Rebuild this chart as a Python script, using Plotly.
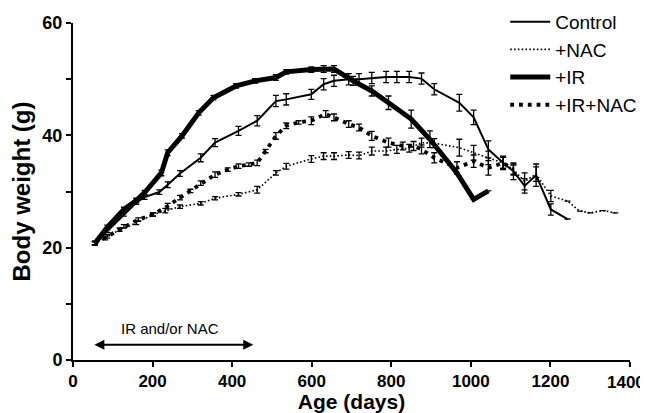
import plotly.graph_objects as go

# ---- data ----
ctrl_x = [55, 86, 128, 159, 180, 217, 238, 269, 321, 357, 416, 463, 510, 536, 599, 630, 656, 693, 719, 751, 787, 814, 845, 876, 908, 971, 1007, 1044, 1081, 1107, 1135, 1164, 1201, 1243]
ctrl_y = [20.8, 23.0, 25.9, 28.0, 29.0, 29.9, 31.2, 33.2, 36.0, 38.7, 40.8, 42.6, 46.1, 46.4, 47.3, 49.1, 49.7, 50.0, 50.0, 50.2, 50.4, 50.4, 50.4, 50.1, 48.2, 45.8, 43.2, 37.5, 35.1, 33.6, 31.0, 32.9, 26.8, 25.1]
ctrl_e = [0.3, 0.3, 0.3, 0.3, 0.4, 0.4, 0.5, 0.5, 0.7, 0.7, 0.8, 0.9, 1.0, 1.0, 0.9, 1.0, 1.0, 1.0, 1.0, 1.0, 1.0, 1.0, 1.0, 1.0, 1.0, 1.5, 1.3, 1.5, 1.2, 1.5, 1.3, 2.0, 1.0, 0.0]

nac_x = [55, 81, 117, 159, 201, 232, 269, 321, 357, 416, 463, 510, 536, 599, 630, 656, 693, 719, 751, 787, 814, 845, 876, 908, 971, 1007, 1044, 1081, 1107, 1135, 1164, 1201, 1243, 1274, 1300, 1332, 1363]
nac_y = [20.8, 21.7, 23.2, 24.4, 25.9, 26.6, 27.3, 27.9, 28.8, 29.5, 30.3, 33.3, 34.5, 35.8, 36.3, 36.3, 36.5, 36.4, 37.2, 37.2, 37.5, 37.7, 38.7, 38.6, 37.8, 36.9, 36.0, 35.1, 33.9, 31.8, 33.1, 29.2, 28.3, 26.5, 26.2, 26.6, 26.2]
nac_e = [0.3, 0.3, 0.3, 0.3, 0.3, 0.4, 0.3, 0.3, 0.3, 0.3, 0.6, 0.4, 0.5, 0.6, 0.6, 0.6, 0.6, 0.6, 0.7, 0.7, 0.7, 0.7, 0.8, 0.8, 1.5, 1.3, 1.2, 1.0, 1.0, 1.5, 1.3, 1.0, 0.0, 0.0, 0.0, 0.0, 0.0]

ir_x = [55, 86, 128, 159, 180, 222, 238, 274, 316, 353, 410, 458, 510, 536, 599, 630, 656, 704, 751, 793, 850, 897, 965, 1007, 1044]
ir_y = [20.8, 23.6, 26.8, 28.4, 29.8, 33.3, 36.9, 39.9, 44.0, 46.7, 48.8, 49.7, 50.3, 51.3, 51.7, 51.8, 51.8, 49.7, 47.9, 45.8, 42.9, 39.3, 33.3, 28.6, 30.1]
ir_e = [0.3, 0.4, 0.4, 0.4, 0.4, 0.5, 0.5, 0.4, 0.4, 0.4, 0.4, 0.4, 0.5, 0.4, 0.5, 0.6, 0.6, 0.8, 0.9, 1.2, 1.6, 1.5, 0.0, 0.0, 0.0]

irnac_x = [55, 86, 128, 164, 201, 238, 269, 295, 321, 357, 389, 416, 442, 463, 484, 510, 536, 567, 599, 635, 656, 693, 719, 751, 793, 829, 856, 876, 908, 965, 1007, 1044, 1081, 1107]
irnac_y = [20.8, 22.0, 23.8, 25.0, 25.9, 27.4, 28.9, 30.1, 31.5, 33.0, 33.9, 34.5, 34.8, 35.1, 37.2, 39.9, 41.7, 42.3, 42.6, 43.8, 43.2, 42.0, 41.4, 39.9, 38.7, 38.1, 38.1, 37.5, 36.0, 34.2, 35.4, 34.2, 35.1, 33.9]
irnac_e = [0.3, 0.3, 0.3, 0.3, 0.3, 0.5, 0.4, 0.3, 0.4, 0.5, 0.3, 0.4, 0.3, 0.5, 0.3, 0.6, 0.5, 0.3, 0.7, 0.6, 0.6, 0.6, 0.6, 0.8, 0.8, 0.7, 0.8, 0.8, 0.9, 1.1, 1.1, 1.3, 1.0, 0.8]

x_ticks = [0, 200, 400, 600, 800, 1000, 1200, 1400]
x_labels = ["0", "200", "400", "600", "800", "1000", "1200", ""]   # last label drawn as annotation (edge)
x_last_label = "1400"
y_ticks = [0, 20, 40, 60]

fig = go.Figure()

def err(arr):
    return dict(type="data", array=arr, visible=True, color="black", thickness=1.3, width=3)

fig.add_trace(go.Scatter(x=ctrl_x, y=ctrl_y, mode="lines", name="Control",
                         line=dict(color="black", width=2), error_y=err(ctrl_e)))
fig.add_trace(go.Scatter(x=nac_x, y=nac_y, mode="lines", name="+NAC",
                         line=dict(color="black", width=1.6, dash="1.6px,2.2px"), error_y=err(nac_e)))
fig.add_trace(go.Scatter(x=ir_x, y=ir_y, mode="lines", name="+IR",
                         line=dict(color="black", width=5), error_y=err(ir_e)))
fig.add_trace(go.Scatter(x=irnac_x, y=irnac_y, mode="lines", name="+IR+NAC",
                         line=dict(color="black", width=3.8, dash="3.8px,5px"), error_y=err(irnac_e)))

# treatment period annotation
fig.add_annotation(x=453, y=2.7, ax=50, ay=2.7, xref="x", yref="y", axref="x", ayref="y",
                   showarrow=True, arrowhead=2, arrowside="end+start", arrowsize=1,
                   arrowwidth=2, arrowcolor="black", text="")
fig.add_annotation(x=244, y=5.6, xref="x", yref="y", text="IR and/or NAC", showarrow=False,
                   font=dict(family="Liberation Sans", size=15, color="black"))
# last x tick label, nudged left so it stays inside the page
fig.add_annotation(x=x_ticks[-1], y=0, xref="x", yref="y", text="<b>" + x_last_label + "</b>",
                   showarrow=False, xanchor="center", yanchor="top", xshift=-4, yshift=-11,
                   font=dict(family="Liberation Sans", size=17, color="black"))

# page has an 8px body margin: figure is sized/offset to compensate
fig.update_layout(
    width=640, height=405,
    margin=dict(l=65, r=18, t=15, b=53, autoexpand=False),
    plot_bgcolor="white", paper_bgcolor="white",
    font=dict(family="Liberation Sans", color="black"),
    legend=dict(x=0.776, y=1.06, xanchor="left", yanchor="top",
                font=dict(family="Liberation Sans", size=19, color="black"),
                bgcolor="rgba(0,0,0,0)", tracegroupgap=0, itemwidth=40),
    showlegend=True,
)
fig.update_xaxes(range=[0, 1400], tickvals=x_ticks, ticktext=x_labels,
                 automargin=False,
                 showline=True, linecolor="black", linewidth=2, ticks="outside",
                 ticklen=5, tickwidth=2, tickcolor="black", showgrid=False, zeroline=False,
                 tickfont=dict(family="Liberation Sans", size=17, color="black", weight="bold"),
                 title=dict(text="<b>Age (days)</b>", font=dict(size=21), standoff=4))
fig.update_yaxes(range=[0, 60], tickvals=y_ticks, ticktext=[str(v) for v in y_ticks],
                 automargin=False,
                 showline=True, linecolor="black", linewidth=2, ticks="outside",
                 ticklen=5, tickwidth=2, tickcolor="black", showgrid=False, zeroline=False,
                 minor=dict(tickvals=[10, 30, 50], ticks="outside", ticklen=5, tickwidth=2, tickcolor="black"),
                 tickfont=dict(family="Liberation Sans", size=18, color="black", weight="bold"),
                 title=dict(text="<b>Body weight (g)</b>", font=dict(size=24), standoff=8))

fig.write_html("out.html")
